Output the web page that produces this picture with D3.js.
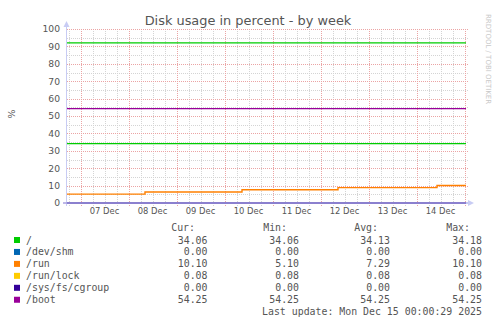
<!DOCTYPE html>
<html>
<head>
<meta charset="utf-8">
<script src="https://cdn.jsdelivr.net/npm/d3@7"></script>
<style>
    body { margin: 0; background: #fff; }
    svg { display: block; }
    text { font-family: "DejaVu Sans", sans-serif; }
    .mono { font-family: "DejaVu Sans Mono", monospace; }
</style>
</head>
<body>
<svg id="chart" width="497" height="324"></svg>
<script>
// step changes (UTC) and the values held after each
var stepTimes = ['2025-12-06T16:30Z', '2025-12-08T08:00Z', '2025-12-10T08:30Z',
    '2025-12-12T08:30Z', '2025-12-14T10:00Z', '2025-12-15T00:30Z'];

var rootValues = [34.14, 34.14, 34.13, 34.13, 34.12, 34.12],
    shmValues = [0, 0, 0, 0, 0, 0],
    runValues = [5.10, 6.35, 7.60, 8.85, 10.10, 10.10],
    lockValues = [0.08, 0.08, 0.08, 0.08, 0.08, 0.08],
    cgroupValues = [0, 0, 0, 0, 0, 0],
    bootValues = [54.25, 54.25, 54.25, 54.25, 54.25, 54.25],
    upperValues = [92, 92, 92, 92, 92, 92];   // drawn, not in legend

var seriesNames = ['/', '/dev/shm', '/run', '/run/lock', '/sys/fs/cgroup', '/boot'],
    seriesColors = ['#00cc00', '#0066b3', '#ff8000', '#ffcc00', '#330099', '#990099'],
    curVals = ['34.06', '0.00', '10.10', '0.08', '0.00', '54.25'],
    minVals = ['34.06', '0.00', '5.10', '0.08', '0.00', '54.25'],
    avgVals = ['34.13', '0.00', '7.29', '0.08', '0.00', '54.25'],
    maxVals = ['34.18', '0.00', '10.10', '0.08', '0.00', '54.25'];

var yTicks = [0, 10, 20, 30, 40, 50, 60, 70, 80, 90, 100];


var svg = d3.select('#chart'),
    times = stepTimes.map(function(t) { return new Date(t); });

var x = d3.scaleUtc()
    .domain([times[0], times[times.length - 1]])
    .range([66, 466]);

var y = d3.scaleLinear()
    .domain([0, 100])
    .range([203, 29]);


// grid
var grid = svg.append('g').attr('class', 'grid');

grid.selectAll('.hminor')
    .data(d3.range(5, 100, 10))
    .enter().append('line')
    .attr('x1', 67).attr('x2', 468)
    .attr('y1', function(d) { return Math.round(y(d)) + 0.5; })
    .attr('y2', function(d) { return Math.round(y(d)) + 0.5; })
    .attr('stroke', '#d4d4d4')
    .attr('stroke-dasharray', '1,1');

grid.selectAll('.vminor')
    .data(d3.utcHour.every(6).range(x.domain()[0], x.domain()[1]))
    .enter().append('line')
    .attr('x1', function(d) { return Math.round(x(d)) + 0.5; })
    .attr('x2', function(d) { return Math.round(x(d)) + 0.5; })
    .attr('y1', 29).attr('y2', 206)
    .attr('stroke', '#d4d4d4')
    .attr('stroke-dasharray', '1,1');

grid.selectAll('.hmajor')
    .data(yTicks.slice(1))
    .enter().append('line')
    .attr('x1', 67).attr('x2', 468)
    .attr('y1', function(d) { return Math.round(y(d)) + 0.5; })
    .attr('y2', function(d) { return Math.round(y(d)) + 0.5; })
    .attr('stroke', '#eba4a4')
    .attr('stroke-dasharray', '1,1');

grid.selectAll('.vmajor')
    .data(d3.utcDay.range(x.domain()[0], x.domain()[1]))
    .enter().append('line')
    .attr('x1', function(d) { return Math.round(x(d)) + 0.5; })
    .attr('x2', function(d) { return Math.round(x(d)) + 0.5; })
    .attr('y1', 29).attr('y2', 206)
    .attr('stroke', '#eba4a4')
    .attr('stroke-dasharray', '1,1');


// series
var line = d3.line()
    .curve(d3.curveStepAfter)
    .x(function(d, i) { return x(times[i]); })
    .y(function(d) { return y(d); });

var drawn = [
    [lockValues, seriesColors[3]],
    [shmValues, seriesColors[1]],
    [cgroupValues, seriesColors[4]],
    [runValues, seriesColors[2]],
    [rootValues, seriesColors[0]],
    [bootValues, seriesColors[5]],
    [upperValues, seriesColors[0]]
];

svg.append('g').selectAll('path')
    .data(drawn)
    .enter().append('path')
    .attr('d', function(d) { return line(d[0]); })
    .attr('fill', 'none')
    .attr('stroke', function(d) { return d[1]; })
    .attr('stroke-width', 1.4);


// axes
svg.append('line')
    .attr('x1', 66.5).attr('x2', 66.5)
    .attr('y1', 206).attr('y2', 25)
    .attr('stroke', '#c8ccf4');
svg.append('path')
    .attr('d', 'M63.5,27 L66.5,21 L69.5,27 Z')
    .attr('fill', '#c8ccf4');
svg.append('line')
    .attr('x1', 63).attr('x2', 469)
    .attr('y1', 203).attr('y2', 203)
    .attr('stroke', '#a9a1e0')
    .attr('stroke-width', 1.6);
svg.append('line')
    .attr('x1', 466).attr('x2', 469)
    .attr('y1', 203).attr('y2', 203)
    .attr('stroke', '#c8ccf4')
    .attr('stroke-width', 1.6);
svg.append('path')
    .attr('d', 'M468,200 L474,203 L468,206 Z')
    .attr('fill', '#c8ccf4');

var yAxis = d3.axisLeft(y)
    .tickValues(yTicks)
    .tickSize(0)
    .tickPadding(0);

svg.append('g')
    .attr('transform', 'translate(60,0)')
    .call(yAxis)
    .call(function(g) { g.select('.domain').remove(); })
    .selectAll('text')
    .attr('fill', '#555')
    .style('font-size', '9.2px')
    .style('font-family', '"DejaVu Sans", sans-serif');

var noons = d3.utcDay.range(x.domain()[0], x.domain()[1])
    .map(function(d) { return d3.utcHour.offset(d, 12); })
    .filter(function(d) { return d < x.domain()[1]; });

var xAxis = d3.axisBottom(x)
    .tickValues(noons)
    .tickFormat(d3.utcFormat('%d Dec'))
    .tickSize(0)
    .tickPadding(0);

svg.append('g')
    .attr('transform', 'translate(-1,208)')
    .call(xAxis)
    .call(function(g) { g.select('.domain').remove(); })
    .selectAll('text')
    .attr('fill', '#555')
    .style('font-size', '8.4px')
    .style('font-family', '"DejaVu Sans", sans-serif');


// titles
svg.append('text')
    .attr('x', 248).attr('y', 24.5)
    .attr('text-anchor', 'middle')
    .attr('fill', '#555')
    .style('font-size', '12.9px')
    .text('Disk usage in percent - by week');

svg.append('text')
    .attr('transform', 'translate(14.5,114) rotate(-90)')
    .attr('text-anchor', 'middle')
    .attr('fill', '#555')
    .style('font-size', '9.5px')
    .text('%');

svg.append('text')
    .attr('transform', 'translate(486,14) rotate(90)')
    .attr('fill', '#c8c8c8')
    .style('font-size', '7px')
    .text('RRDTOOL / TOBI OETIKER');


// legend
var legend = svg.append('g')
    .attr('class', 'mono')
    .style('font-size', '9.9px')
    .attr('fill', '#555');

var headers = [['Cur:', 195], ['Min:', 287], ['Avg:', 378], ['Max:', 470]];
legend.selectAll('.hdr')
    .data(headers)
    .enter().append('text')
    .attr('class', 'mono')
    .attr('x', function(d) { return d[1]; })
    .attr('y', 231)
    .attr('text-anchor', 'end')
    .text(function(d) { return d[0]; });

var rows = legend.selectAll('.row')
    .data(seriesNames)
    .enter().append('g')
    .attr('transform', function(d, i) { return 'translate(0,' + (243.5 + i * 11.95) + ')'; });

rows.append('rect')
    .attr('x', 14).attr('y', -6.5)
    .attr('width', 6).attr('height', 6)
    .attr('fill', function(d, i) { return seriesColors[i]; });

rows.append('text')
    .attr('class', 'mono')
    .attr('x', 26)
    .text(function(d) { return d; });

[[curVals, 207.5], [minVals, 299], [avgVals, 390], [maxVals, 482]].forEach(function(col) {
    rows.append('text')
        .attr('class', 'mono')
        .attr('x', col[1])
        .attr('text-anchor', 'end')
        .text(function(d, i) { return col[0][i]; });
});

legend.append('text')
    .attr('class', 'mono')
    .attr('x', 482)
    .attr('y', 315.2)
    .attr('text-anchor', 'end')
    .text('Last update: Mon Dec 15 00:00:29 2025');
</script>
</body>
</html>
